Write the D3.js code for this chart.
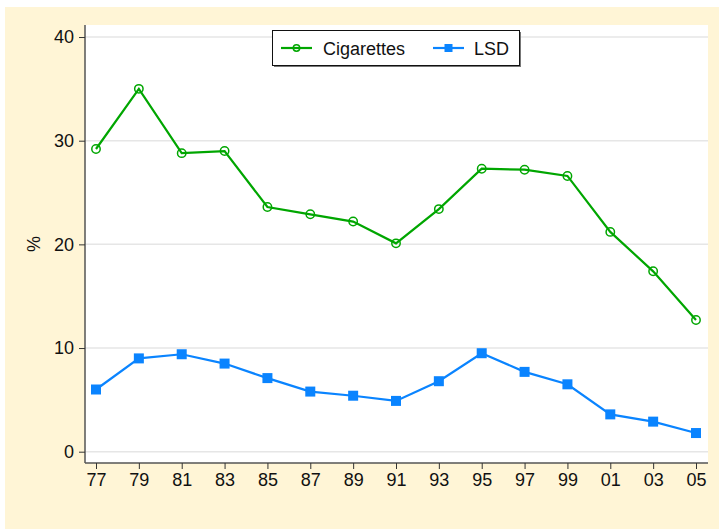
<!DOCTYPE html>
<html>
<head>
<meta charset="utf-8">
<script src="https://cdn.jsdelivr.net/npm/d3@7"></script>
<style>
  body { margin: 0; background: #ffffff; }
  text { font-family: "Liberation Sans", Arial, sans-serif; }
</style>
</head>
<body>
<div id="chart"></div>
<script>
const width = 719;
const height = 529;

const years = ["77", "79", "81", "83", "85", "87", "89", "91", "93", "95", "97", "99", "01", "03", "05"];
const cigarettes = [29.2, 35.0, 28.8, 29.0, 23.6, 22.9, 22.2, 20.1, 23.4, 27.3, 27.2, 26.6, 21.2, 17.4, 12.7];
const lsd = [6.0, 9.0, 9.4, 8.5, 7.1, 5.8, 5.4, 4.9, 6.8, 9.5, 7.7, 6.5, 3.6, 2.9, 1.8];
const yTicks = [0, 10, 20, 30, 40];

const green = "#00a600";
const blue = "#0a84ff";

const plot = {left: 85, right: 708, top: 25, bottom: 463};

const svg = d3.select("#chart")
  .append("svg")
  .attr("width", width)
  .attr("height", height);

// outer background
svg.append("rect")
  .attr("x", 5).attr("y", 7)
  .attr("width", width - 5).attr("height", height - 7)
  .attr("fill", "#fff5d6");

// plot region
svg.append("rect")
  .attr("x", plot.left).attr("y", plot.top)
  .attr("width", plot.right - plot.left).attr("height", plot.bottom - plot.top)
  .attr("fill", "#ffffff");

const xScale = d3.scalePoint()
  .domain(years)
  .range([96, 696]);

const yScale = d3.scaleLinear()
  .domain([-1.09, 41.16])
  .range([plot.bottom, plot.top]);

// gridlines
svg.append("g")
  .selectAll("line")
  .data(yTicks)
  .enter()
  .append("line")
  .attr("x1", plot.left)
  .attr("x2", plot.right)
  .attr("y1", d => yScale(d))
  .attr("y2", d => yScale(d))
  .attr("stroke", "#e6e6e6")
  .attr("stroke-width", 1.5);

// axes
const yAxis = d3.axisLeft(yScale).tickValues(yTicks).tickSize(6).tickPadding(5).tickSizeOuter(0);
const xAxis = d3.axisBottom(xScale).tickSize(6).tickPadding(4).tickSizeOuter(0);

const gy = svg.append("g")
  .attr("transform", "translate(" + plot.left + ",0)")
  .call(yAxis);

const gx = svg.append("g")
  .attr("transform", "translate(0," + plot.bottom + ")")
  .call(xAxis);

gy.select(".domain").attr("d", "M0," + plot.top + "V" + plot.bottom);
gx.select(".domain").attr("d", "M" + plot.left + ",0H" + plot.right);

[gx, gy].forEach(g => {
  g.select(".domain").attr("stroke", "#555555").attr("stroke-width", 1.5);
  g.selectAll(".tick line").attr("stroke", "#333333").attr("stroke-width", 1);
  g.selectAll(".tick text")
    .attr("font-size", 18)
    .attr("fill", "#111111")
    .style("font-family", "'Liberation Sans', Arial, sans-serif");
});

// y label
svg.append("text")
  .attr("transform", "translate(40,244) rotate(-90)")
  .attr("text-anchor", "middle")
  .attr("font-size", 18)
  .attr("fill", "#111111")
  .text("%");

const line = d3.line()
  .x((d, i) => xScale(years[i]))
  .y(d => yScale(d));

// cigarettes
svg.append("path")
  .datum(cigarettes)
  .attr("d", line)
  .attr("fill", "none")
  .attr("stroke", green)
  .attr("stroke-width", 2.2);

svg.selectAll(".cig")
  .data(cigarettes)
  .enter()
  .append("circle")
  .attr("class", "cig")
  .attr("cx", (d, i) => xScale(years[i]))
  .attr("cy", d => yScale(d))
  .attr("r", 4.2)
  .attr("fill", "none")
  .attr("stroke", green)
  .attr("stroke-width", 1.5);

// LSD
svg.append("path")
  .datum(lsd)
  .attr("d", line)
  .attr("fill", "none")
  .attr("stroke", blue)
  .attr("stroke-width", 2.2);

svg.selectAll(".lsd")
  .data(lsd)
  .enter()
  .append("rect")
  .attr("class", "lsd")
  .attr("x", (d, i) => xScale(years[i]) - 5)
  .attr("y", d => yScale(d) - 5)
  .attr("width", 10)
  .attr("height", 10)
  .attr("fill", blue);

// legend
const legend = svg.append("g");
legend.append("rect")
  .attr("x", 274).attr("y", 32)
  .attr("width", 247).attr("height", 35)
  .attr("fill", "#777777");
legend.append("rect")
  .attr("x", 272.5).attr("y", 30.5)
  .attr("width", 247).attr("height", 35)
  .attr("fill", "#ffffff")
  .attr("stroke", "#111111")
  .attr("stroke-width", 1);

legend.append("line")
  .attr("x1", 281).attr("x2", 312).attr("y1", 48).attr("y2", 48)
  .attr("stroke", green).attr("stroke-width", 2.2);
legend.append("circle")
  .attr("cx", 296.5).attr("cy", 48).attr("r", 3.2)
  .attr("fill", "none").attr("stroke", green).attr("stroke-width", 1.5);
legend.append("text")
  .attr("x", 323).attr("y", 54.5)
  .attr("font-size", 18).attr("fill", "#111111")
  .text("Cigarettes");

legend.append("line")
  .attr("x1", 433).attr("x2", 464).attr("y1", 48).attr("y2", 48)
  .attr("stroke", blue).attr("stroke-width", 2.2);
legend.append("rect")
  .attr("x", 444.5).attr("y", 44).attr("width", 8).attr("height", 8)
  .attr("fill", blue);
legend.append("text")
  .attr("x", 474).attr("y", 54.5)
  .attr("font-size", 18).attr("fill", "#111111")
  .text("LSD");
</script>
</body>
</html>
